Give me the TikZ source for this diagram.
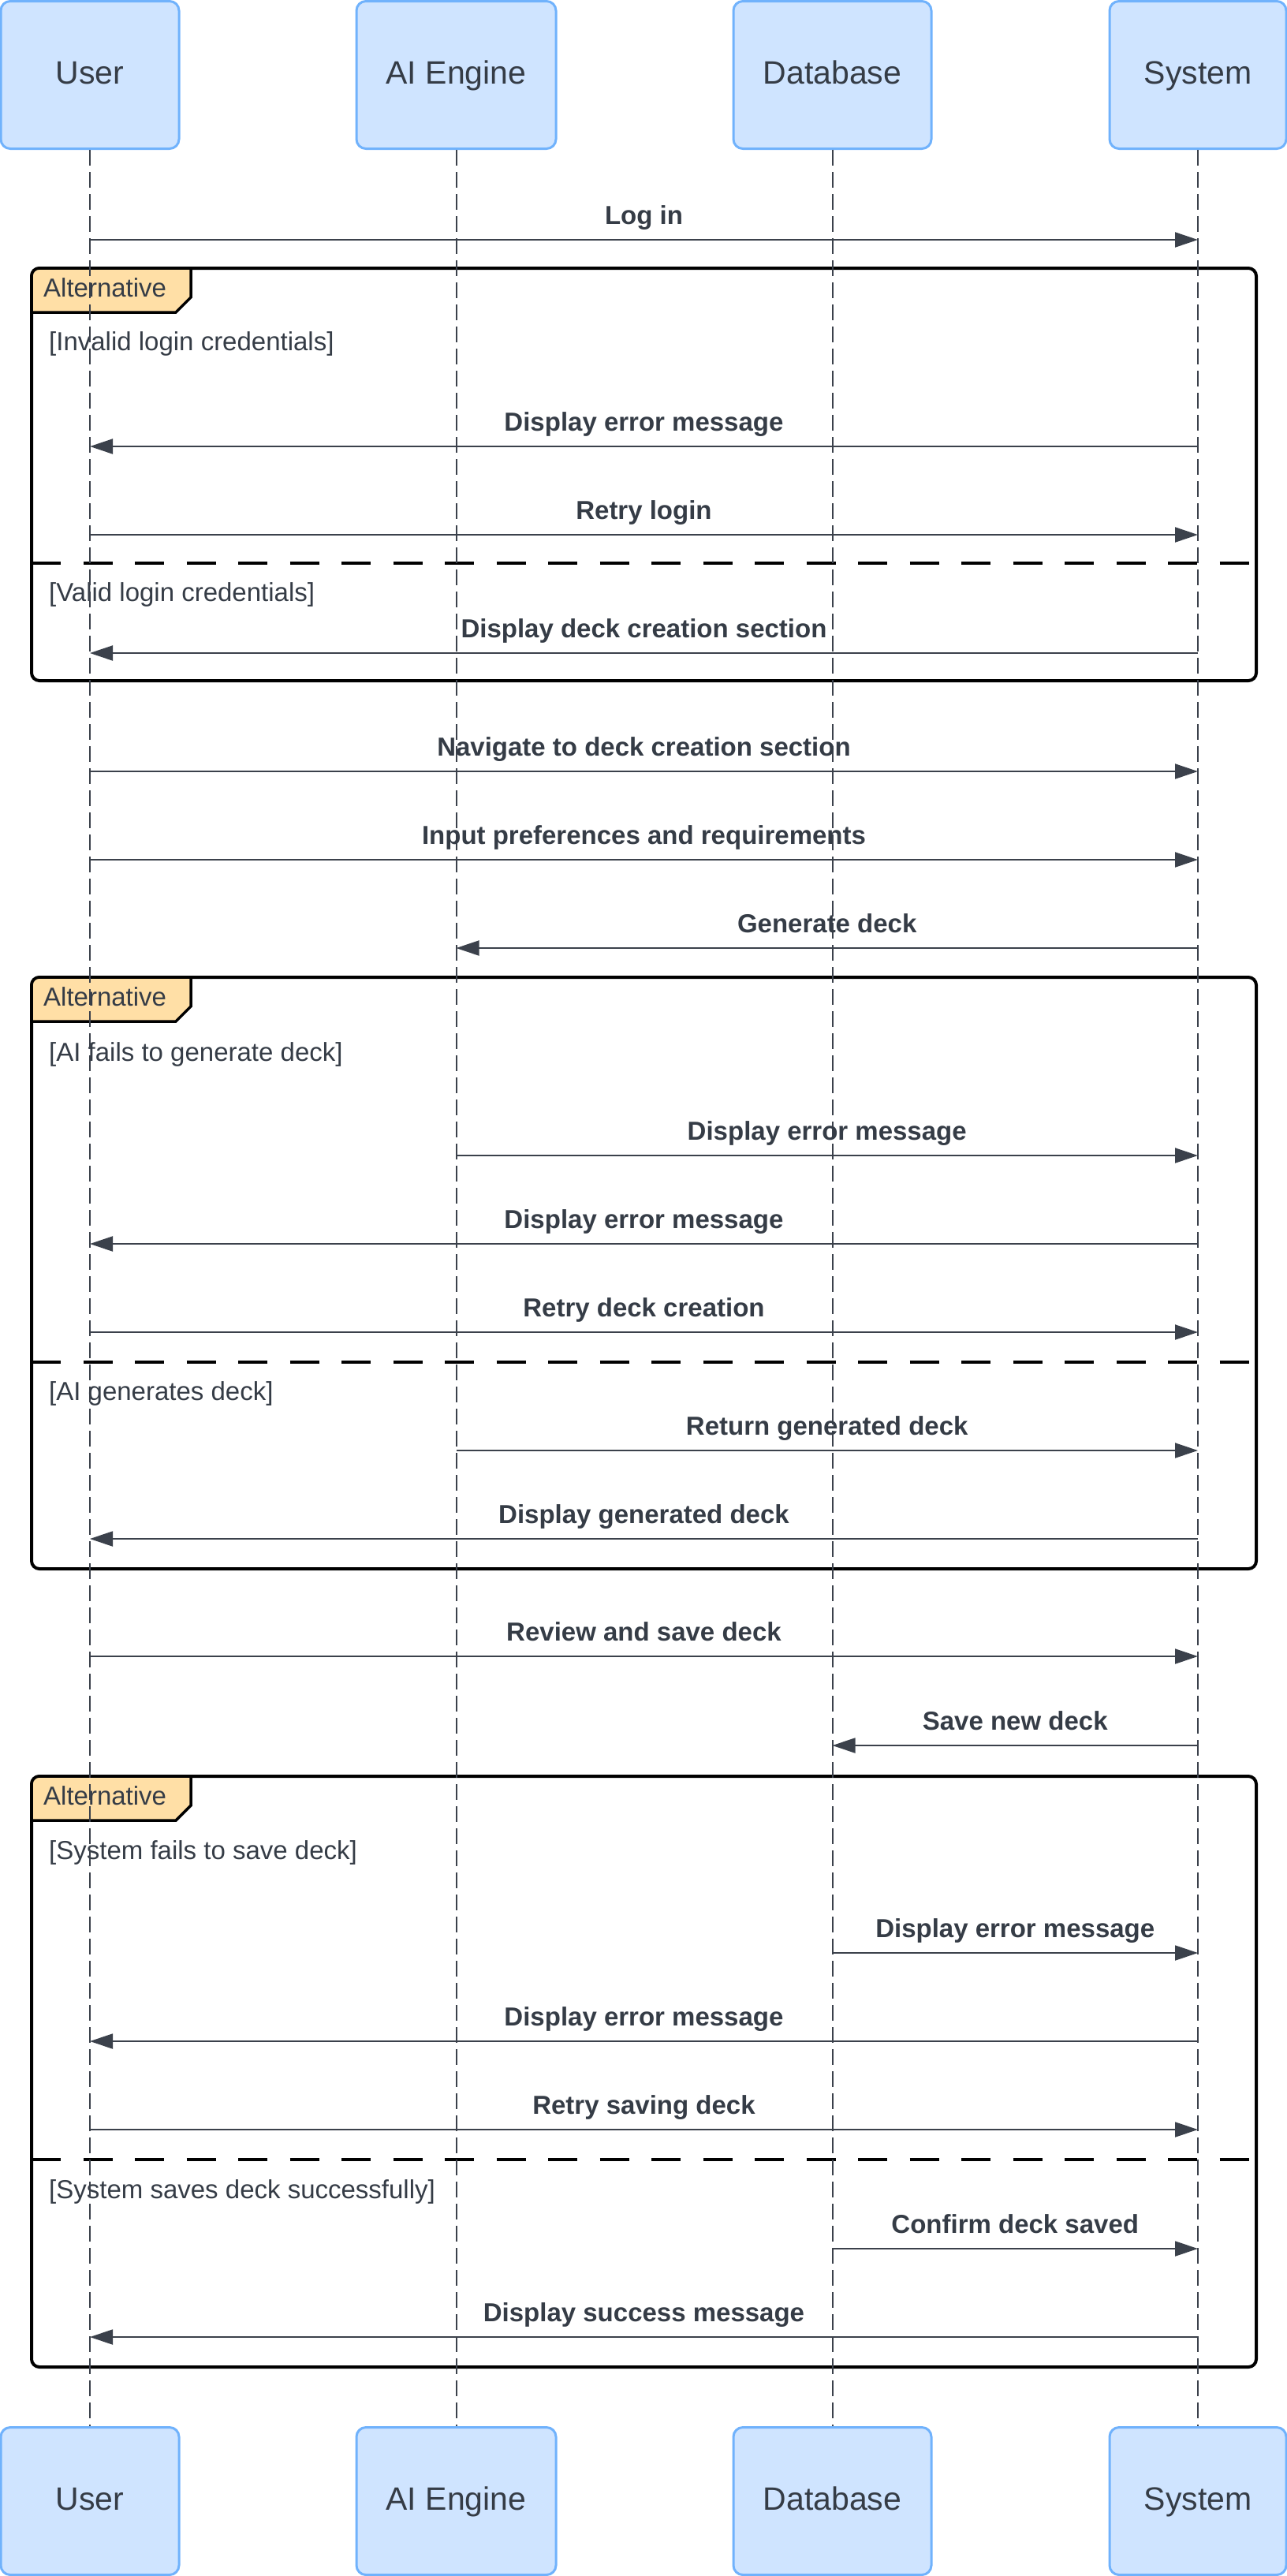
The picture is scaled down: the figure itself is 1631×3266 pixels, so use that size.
\documentclass[tikz,border=0pt]{standalone}
\usepackage{fontspec}
\setmainfont{Liberation Sans}
\usetikzlibrary{arrows.meta}
\definecolor{ink}{HTML}{353C46}
\definecolor{lifegray}{HTML}{3B414B}
\definecolor{boxfill}{HTML}{CFE4FF}
\definecolor{boxline}{HTML}{70B2FC}
\definecolor{tabfill}{HTML}{FFDFA6}
\begin{document}
\begin{tikzpicture}[x=1pt, y=-1pt,
  actor/.style={draw=boxline, fill=boxfill, line width=3pt, rounded corners=12pt,
    minimum height=187pt, text=ink, text height=30pt, text depth=7pt,
    font=\fontsize{41}{49}\selectfont},
  life/.style={draw=lifegray, line width=2pt, dash pattern=on 20pt off 8pt},
  msg/.style={draw=lifegray, line width=2pt, -{Triangle[length=29pt,width=19pt]}},
  lbl/.style={midway, anchor=base, yshift=20pt, inner sep=0pt, text=ink,
    font=\fontsize{33}{40}\selectfont\bfseries},
  frame/.style={draw=black, line width=4pt, rounded corners=10pt},
  sep/.style={draw=black, line width=4pt, dash pattern=on 37pt off 28.5pt},
  tab/.style={draw=black, fill=tabfill, line width=3.5pt},
  kind/.style={anchor=base west, inner sep=0pt, text=ink, font=\fontsize{33}{40}\selectfont},
  guard/.style={anchor=west, inner sep=0pt, text=ink, font=\fontsize{33}{40}\selectfont}]
\useasboundingbox (0,0) rectangle (1631,3266);

% alternative frames
\draw[frame] (40,340) rectangle (1593,863);
\filldraw[tab] (40,396) [rounded corners=10pt] -- (40,340) [sharp corners] -- (242,340) -- (242,377) -- (223,396) -- cycle;
\draw[sep] (40,714) -- (1593,714);
\draw[frame] (40,1239) rectangle (1593,1989);
\filldraw[tab] (40,1295) [rounded corners=10pt] -- (40,1239) [sharp corners] -- (242,1239) -- (242,1276) -- (223,1295) -- cycle;
\draw[sep] (40,1726.5) -- (1593,1726.5);
\draw[frame] (40,2252) rectangle (1593,3001);
\filldraw[tab] (40,2308) [rounded corners=10pt] -- (40,2252) [sharp corners] -- (242,2252) -- (242,2289) -- (223,2308) -- cycle;
\draw[sep] (40,2738) -- (1593,2738);

\node[kind] at (55,376) {Alternative};
\node[kind] at (55,1275) {Alternative};
\node[kind] at (55,2288) {Alternative};
\node[guard] at (62,436) {[Invalid login credentials]};
\node[guard] at (62,754) {[Valid login credentials]};
\node[guard] at (62,1337) {[AI fails to generate deck]};
\node[guard] at (62,1767) {[AI generates deck]};
\node[guard] at (62,2349) {[System fails to save deck]};
\node[guard] at (62,2779) {[System saves deck successfully]};

% participants
\node[actor, minimum width=226pt] (usrT) at (114,95) {User};
\node[actor, minimum width=253pt] (aiT) at (578.5,95) {AI Engine};
\node[actor, minimum width=251pt] (dbT) at (1055.5,95) {Database};
\node[actor, minimum width=224pt] (sysT) at (1519,95) {System};
\node[actor, minimum width=226pt] (usrB) at (114,3171) {User};
\node[actor, minimum width=253pt] (aiB) at (578.5,3171) {AI Engine};
\node[actor, minimum width=251pt] (dbB) at (1055.5,3171) {Database};
\node[actor, minimum width=224pt] (sysB) at (1519,3171) {System};

\draw[life] (usrT) -- (usrB);
\draw[life] (aiT) -- (aiB);
\draw[life] (dbT) -- (dbB);
\draw[life] (sysT) -- (sysB);

% messages
\draw[msg] (usrT |- 0,304) -- (sysT |- 0,304) node[lbl]{Log in};
\draw[msg] (sysT |- 0,566) -- (usrT |- 0,566) node[lbl]{Display error message};
\draw[msg] (usrT |- 0,678) -- (sysT |- 0,678) node[lbl]{Retry login};
\draw[msg] (sysT |- 0,828) -- (usrT |- 0,828) node[lbl]{Display deck creation section};
\draw[msg] (usrT |- 0,978) -- (sysT |- 0,978) node[lbl]{Navigate to deck creation section};
\draw[msg] (usrT |- 0,1090) -- (sysT |- 0,1090) node[lbl]{Input preferences and requirements};
\draw[msg] (sysT |- 0,1202) -- (aiT |- 0,1202) node[lbl]{Generate deck};
\draw[msg] (aiT |- 0,1465) -- (sysT |- 0,1465) node[lbl]{Display error message};
\draw[msg] (sysT |- 0,1577) -- (usrT |- 0,1577) node[lbl]{Display error message};
\draw[msg] (usrT |- 0,1689) -- (sysT |- 0,1689) node[lbl]{Retry deck creation};
\draw[msg] (aiT |- 0,1839) -- (sysT |- 0,1839) node[lbl]{Return generated deck};
\draw[msg] (sysT |- 0,1951) -- (usrT |- 0,1951) node[lbl]{Display generated deck};
\draw[msg] (usrT |- 0,2100) -- (sysT |- 0,2100) node[lbl]{Review and save deck};
\draw[msg] (sysT |- 0,2213) -- (dbT |- 0,2213) node[lbl]{Save new deck};
\draw[msg] (dbT |- 0,2476) -- (sysT |- 0,2476) node[lbl]{Display error message};
\draw[msg] (sysT |- 0,2588) -- (usrT |- 0,2588) node[lbl]{Display error message};
\draw[msg] (usrT |- 0,2700) -- (sysT |- 0,2700) node[lbl]{Retry saving deck};
\draw[msg] (dbT |- 0,2851) -- (sysT |- 0,2851) node[lbl]{Confirm deck saved};
\draw[msg] (sysT |- 0,2963) -- (usrT |- 0,2963) node[lbl]{Display success message};
\end{tikzpicture}
\end{document}
